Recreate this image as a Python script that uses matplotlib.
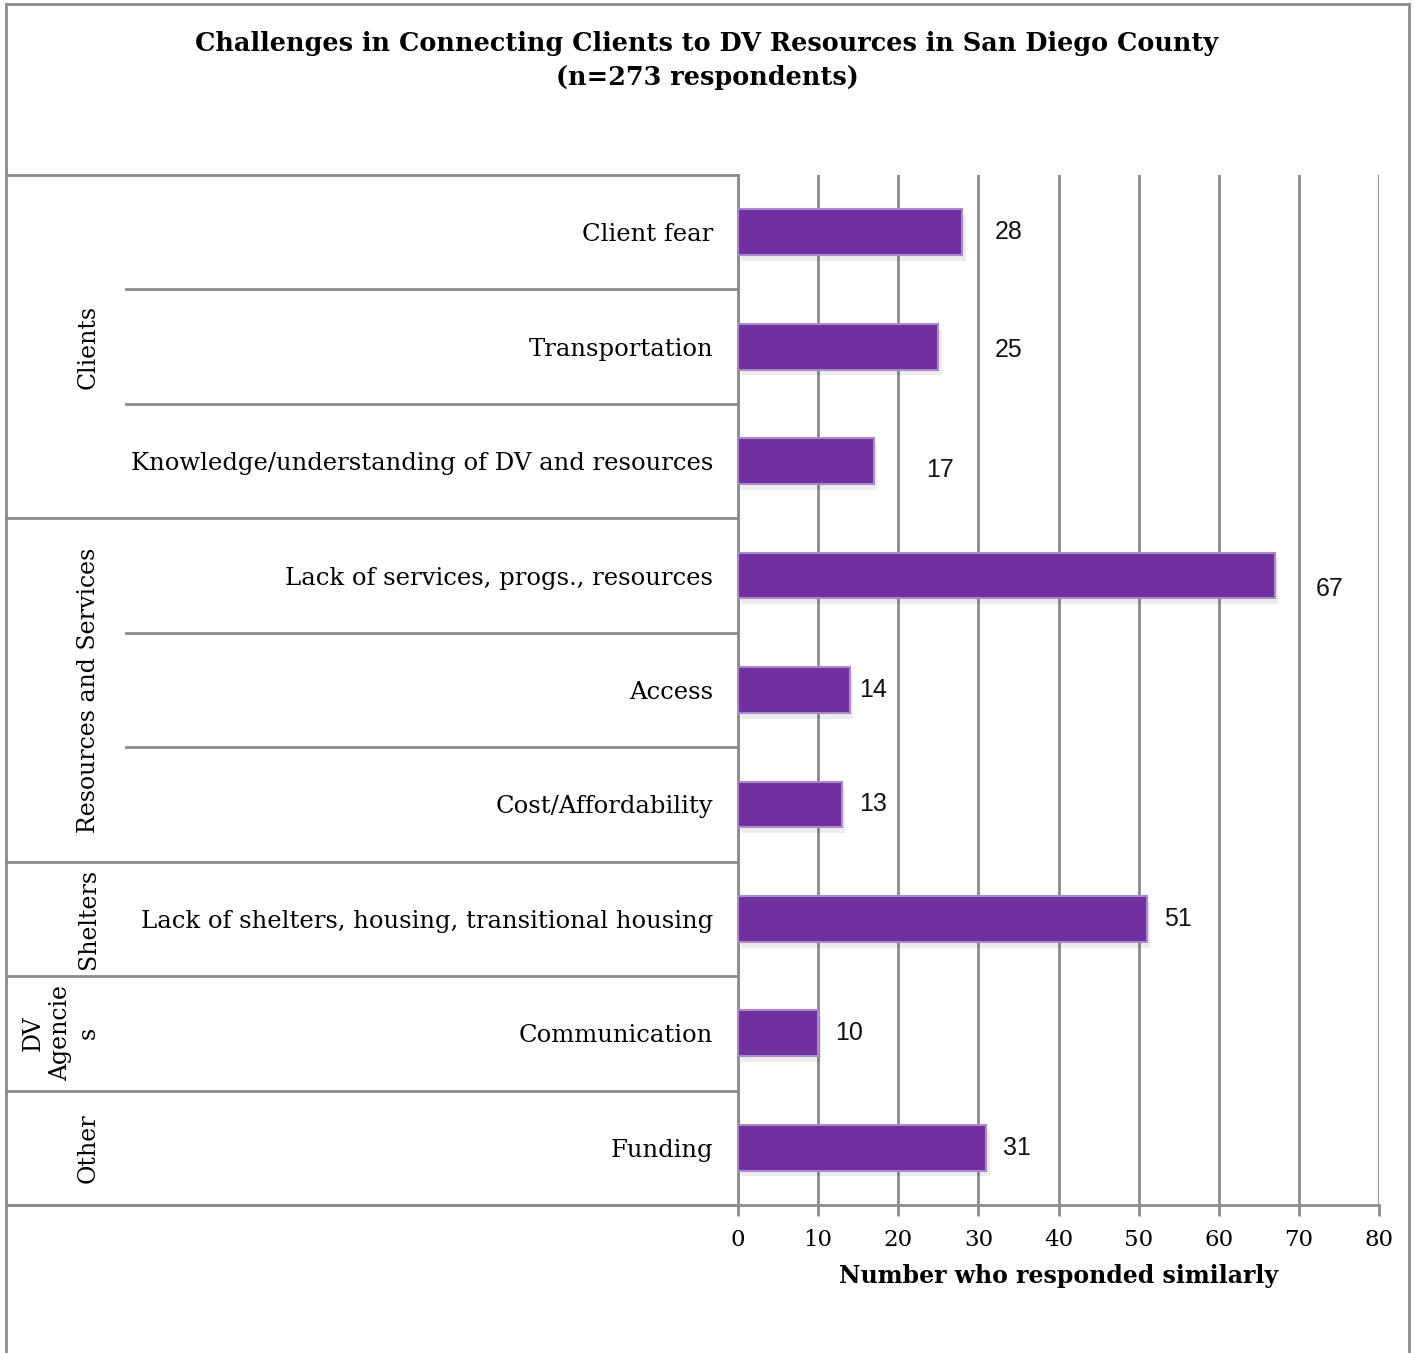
import matplotlib
matplotlib.use('Agg')
import matplotlib.pyplot as plt
from matplotlib.transforms import blended_transform_factory
from matplotlib.lines import Line2D
import numpy as np

# survey responses, top to bottom
challenges = ['Client fear', 'Transportation', 'Knowledge/understanding of DV and resources',
              'Lack of services, progs., resources', 'Access', 'Cost/Affordability',
              'Lack of shelters, housing, transitional housing', 'Communication', 'Funding']
counts = [28, 25, 17, 67, 14, 13, 51, 10, 31]

# group name and how many rows it covers
groups = ['Clients', 'Resources and Services', 'Shelters', 'DV\nAgencie\ns', 'Other']
group_sizes = [3, 3, 1, 1, 1]

x_ticks = [0, 10, 20, 30, 40, 50, 60, 70, 80]

SERIF = 'DejaVu Serif'
GRAY = '#8c8c8c'
PURPLE = '#7030a0'

W, H = 1414, 1353
fig = plt.figure(figsize=(W / 100, H / 100), dpi=100)
ax = fig.add_axes([738 / W, 1 - 1205 / H, (1379 - 738) / W, (1205 - 175) / H])

y = np.arange(len(challenges))

# soft shadow under each bar, then the bar itself
ax.barh(y + 0.05, counts, height=0.4, left=0.4, color='#000000', alpha=0.07, zorder=2)
ax.barh(y, counts, height=0.4, color=PURPLE, edgecolor='#a98ac8', linewidth=1.5, zorder=3)

# value labels (Excel placed some of them a little off)
label_dx = [5.8, 8.8, 8.2, 6.8, 2.8, 3.8, 3.9, 3.9, 3.8]
label_dy = [0.0, 0.03, 0.08, 0.12, 0.0, 0.0, 0.0, 0.0, 0.0]
for i, v in enumerate(counts):
    ax.text(v + label_dx[i], y[i] + label_dy[i], str(v), ha='center', va='center',
            fontsize=18, family='Liberation Sans', color='#111111')

ax.set_xlim(0, 80)
ax.set_ylim(len(challenges) - 0.5, -0.5)
ax.set_xticks(x_ticks)
ax.set_xticklabels([str(t) for t in x_ticks], family=SERIF, fontsize=16.5)
ax.tick_params(axis='x', length=8, width=2, color=GRAY, pad=9)
ax.set_yticks(y)
ax.set_yticklabels(challenges, family=SERIF, fontsize=17.5)
ax.tick_params(axis='y', length=0, pad=18)
ax.xaxis.grid(True, color=GRAY, linewidth=2, zorder=0)
ax.set_axisbelow(True)
for s in ['top', 'right']:
    ax.spines[s].set_visible(False)
ax.spines['left'].set_color(GRAY)
ax.spines['left'].set_linewidth(2)
ax.spines['bottom'].set_color(GRAY)
ax.spines['bottom'].set_linewidth(2)

ax.set_xlabel('Number who responded similarly', family=SERIF, fontweight='bold',
              fontsize=17, labelpad=10)

# category table on the left
tr = blended_transform_factory(fig.transFigure, ax.transData)
x_outer, x_inner, x_axis = 6 / W, 126 / W, 738 / W
ax.plot([x_outer, x_axis], [-0.5, -0.5], transform=tr, color=GRAY, lw=2, clip_on=False)
ax.plot([x_outer, x_axis], [len(challenges) - 0.5] * 2, transform=tr, color=GRAY, lw=2,
        clip_on=False)
start = 0
for name, n in zip(groups, group_sizes):
    for k in range(1, n):
        ax.plot([x_inner, x_axis], [start + k - 0.5] * 2, transform=tr, color=GRAY, lw=2,
                clip_on=False)
    ax.plot([x_outer, x_axis], [start + n - 0.5] * 2, transform=tr, color=GRAY, lw=2,
            clip_on=False)
    ax.text(100 / W, start + (n - 1) / 2, name, transform=tr, rotation=90, ha='right',
            va='center', multialignment='center', family=SERIF, fontsize=17,
            linespacing=1.25)
    start += n

# chart frame
fig.add_artist(Line2D([6 / W, 6 / W], [0, 1 - 4 / H], color=GRAY, lw=2))
fig.add_artist(Line2D([6 / W, 1409 / W], [1 - 4 / H, 1 - 4 / H], color=GRAY, lw=2))
fig.add_artist(Line2D([1409 / W, 1409 / W], [0, 1 - 4 / H], color=GRAY, lw=2))

fig.text(707 / W, 1 - 60 / H,
         'Challenges in Connecting Clients to DV Resources in San Diego County\n(n=273 respondents)',
         ha='center', va='center', family=SERIF, fontweight='bold', fontsize=18.4,
         linespacing=1.45)

fig.savefig('out.png', dpi=100, facecolor='white')
